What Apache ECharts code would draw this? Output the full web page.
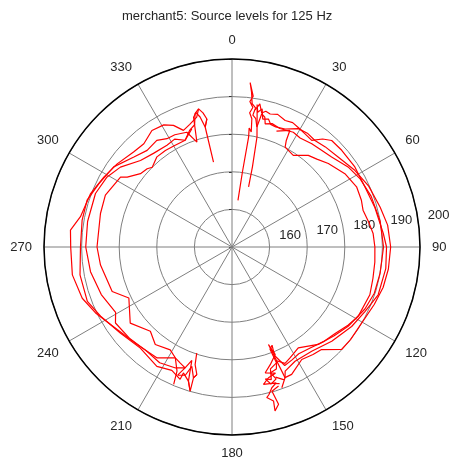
<!DOCTYPE html>
<html>
<head>
<meta charset="utf-8">
<script src="https://cdn.jsdelivr.net/npm/echarts@6/dist/echarts.min.js"></script>
<style>
  html, body { margin: 0; padding: 0; background: #fff; }
  #chart { width: 451px; height: 463px; }
</style>
</head>
<body>
<div id="chart"></div>
<script>
// tick labels
const angleTicks = [0, 30, 60, 90, 120, 150, 180, 210, 240, 270, 300, 330];
const levelTicks = [160, 170, 180, 190, 200];

// traces, [bearing deg, source level dB]
const right1 = [[9.6,187.0],[11.0,188.8],[12.5,186.5],[14.0,187.2],[16.0,186.8],[19.0,187.3],[22.8,186.5],[26.0,186.8],[29.3,186.3],[33.0,185.8],[36.8,185.4],[40.0,187.5],[43.1,188.8],[48.6,188.9],[56.9,189.0],[65.7,188.8],[74.3,189.4],[84.9,190.4],[90.0,191.1],[98.0,191.3],[108.1,190.9],[115.9,189.3],[123.6,188.2],[133.4,186.5],[142.6,184.9],[151.1,184.7],[156.8,185.9],[157.9,187.5],[160.5,189.7],[158.5,188.0],[161.5,186.5]];
const right2 = [[15.4,166.6],[14.3,172.0],[12.8,180.0],[12.0,182.0],[11.0,185.0],[10.0,188.5],[10.8,186.5],[12.3,187.6],[13.5,185.0],[15.9,185.4],[17.5,184.2],[20.0,184.0],[24.2,184.4],[29.3,186.1],[33.5,186.3],[37.9,185.9],[43.0,186.4],[49.7,187.0],[58.0,188.5],[66.0,189.8],[75.0,190.8],[82.0,191.8],[90.0,192.2],[98.0,192.0],[105.0,191.6],[112.0,190.8],[122.7,189.9],[128.0,190.0],[133.1,189.9],[138.9,186.2],[143.0,185.8],[148.2,185.2],[154.9,187.4],[157.9,187.5],[159.1,179.7],[159.5,177.7],[158.1,180.8],[162.0,182.9],[165.2,184.6],[161.0,185.5],[164.4,186.1],[167.1,187.5],[162.0,188.0],[164.2,188.9],[166.0,190.5],[167.0,191.1],[164.9,192.4],[165.3,195.1],[163.5,193.6],[164.5,189.8],[161.5,189.0]];
const right3 = [[7.3,162.5],[7.9,170.0],[8.6,179.6],[8.2,182.0],[9.5,181.0],[8.8,184.5],[7.5,186.0],[8.5,187.5],[7.0,189.0],[8.0,190.5],[6.3,194.0],[7.2,191.5],[8.0,188.5],[9.6,187.5],[9.0,185.5],[10.5,184.7],[11.7,182.6],[12.6,186.3],[14.2,185.6],[15.1,183.9],[18.0,184.5],[22.0,184.0],[28.1,184.6],[32.0,184.2],[37.7,184.7],[42.0,185.0],[47.9,185.7],[55.4,187.5],[62.0,188.6],[70.0,189.4],[80.0,190.0],[90.0,190.3],[100.0,190.0],[108.0,189.8],[115.0,189.0],[124.3,187.4],[131.0,186.0],[138.5,184.6],[146.7,182.1],[152.4,183.3],[155.5,184.0],[158.6,182.5],[160.0,184.5],[163.0,185.0],[161.5,187.0],[163.8,187.8],[160.8,188.5]];
const right4 = [[21.0,183.0],[26.4,184.6],[27.0,181.8],[28.0,180.1],[33.8,179.3],[39.8,181.7],[44.0,182.5],[49.1,183.9],[57.0,185.8],[64.2,186.8],[70.0,186.6],[74.3,186.2],[80.0,187.0],[84.5,187.7],[90.0,188.0],[96.0,188.2],[102.5,188.4],[109.1,188.8],[118.8,188.3],[124.0,187.2],[130.0,185.8],[136.0,185.0],[142.0,184.0],[148.0,183.5],[152.0,184.0],[156.0,184.5],[158.6,181.0],[157.8,178.2],[159.6,179.0],[159.0,183.0],[162.5,184.0],[163.5,186.8],[165.8,186.2],[164.0,188.0]];
const left1 = [[346.4,187.8],[344.8,185.8],[341.0,184.5],[337.4,183.6],[334.3,185.9],[330.8,187.2],[325.5,187.6],[319.5,186.1],[314.0,186.4],[305.9,187.7],[298.7,188.8],[290.7,190.2],[281.3,191.1],[276.0,193.2],[270.0,192.9],[260.1,193.1],[251.1,192.1],[244.2,190.3],[234.3,187.6],[224.2,186.2],[214.0,185.6],[207.1,183.1],[203.9,186.1],[203.0,189.7]];
const left2 = [[348.9,184.7],[347.4,182.7],[346.2,185.6],[345.0,187.0],[343.5,186.0],[341.5,179.4],[338.5,182.8],[333.0,183.5],[329.0,183.6],[324.8,184.7],[318.7,184.2],[312.5,185.4],[304.1,188.0],[295.5,189.2],[287.9,190.5],[280.2,190.5],[270.0,190.3],[259.6,191.1],[249.4,191.1],[242.2,189.5],[232.4,187.5],[222.2,186.3],[212.2,187.5],[206.0,186.5],[201.4,187.8],[201.1,185.9],[198.0,187.5],[196.2,189.9],[196.4,186.3],[195.4,185.2]];
const left3 = [[347.7,173.1],[347.4,182.7],[348.9,184.7],[347.8,186.5],[346.4,187.8],[344.5,186.8],[343.0,184.0],[340.0,183.0],[336.3,181.0],[332.0,182.5],[327.4,182.1],[320.0,182.5],[313.4,183.5],[305.6,186.5],[299.3,188.1],[291.4,189.0],[280.0,189.0],[270.0,188.9],[260.1,188.2],[250.0,187.0],[240.7,185.5],[236.9,187.0],[228.0,186.5],[220.0,185.8],[212.0,186.3],[205.0,185.5],[201.2,184.5],[203.0,187.0],[200.0,186.3],[198.6,183.5],[196.4,186.3],[195.4,185.2],[197.4,182.8],[198.4,179.7]];
const left4 = [[341.2,183.2],[336.3,181.0],[330.0,181.0],[325.4,181.2],[320.2,181.2],[315.0,180.0],[312.7,180.7],[308.7,181.2],[303.7,183.5],[302.1,185.0],[292.3,186.4],[284.3,186.1],[270.0,185.9],[262.2,185.3],[249.6,184.0],[243.7,180.6],[233.2,183.8],[224.1,181.2],[218.2,183.0],[211.0,181.9],[207.1,183.1],[204.0,183.8],[201.2,184.5],[199.5,182.0],[198.0,187.5],[196.2,189.9]];

const traces = [right1, right2, right3, right4, left1, left2, left3, left4];

const font = '"Liberation Sans", Arial, sans-serif';
const chart = echarts.init(document.getElementById('chart'));

chart.setOption({
  animation: false,
  title: {
    text: 'merchant5: Source levels for 125 Hz',
    left: 122,
    top: 10,
    padding: 0,
    textStyle: { fontSize: 13, fontWeight: 'normal', color: '#262626', fontFamily: font }
  },
  polar: [
    { center: [232, 247], radius: 188 },
    // only carries the level labels, offset like the original
    { center: [232, 247], radius: 209 }
  ],
  angleAxis: [
    {
      polarIndex: 0,
      type: 'value',
      min: 0,
      max: 360,
      interval: 30,
      startAngle: 90,
      clockwise: true,
      z: 3,
      axisLine: { lineStyle: { color: '#000', width: 1.5 } },
      axisTick: { show: false },
      axisLabel: {
        margin: 12,
        fontSize: 13,
        color: '#262626',
        fontFamily: font,
        formatter: v => angleTicks.includes(v) ? String(v) : ''
      },
      splitLine: { lineStyle: { color: '#7f7f7f', width: 1 } }
    },
    {
      polarIndex: 1,
      type: 'value',
      min: 0,
      max: 360,
      startAngle: 7.7,
      show: false
    }
  ],
  radiusAxis: [
    {
      polarIndex: 0,
      type: 'value',
      min: 150,
      max: 200,
      interval: 10,
      z: 1,
      axisLine: { show: false },
      axisTick: { show: true, length: 3, lineStyle: { color: '#333' } },
      axisLabel: { show: false },
      splitLine: { lineStyle: { color: '#7f7f7f', width: 1 } }
    },
    {
      polarIndex: 1,
      type: 'value',
      min: 144.2,
      max: 200,
      axisLine: { show: false },
      axisTick: { show: false },
      splitLine: { show: false },
      axisLabel: {
        customValues: levelTicks,
        margin: 4,
        align: 'center',
        verticalAlign: 'middle',
        fontSize: 13,
        color: '#262626',
        fontFamily: font,
        formatter: v => levelTicks.includes(v) ? String(v) : ''
      }
    }
  ],
  series: traces.map(t => ({
    type: 'line',
    coordinateSystem: 'polar',
    polarIndex: 0,
    symbol: 'none',
    z: 4,
    lineStyle: { color: '#ff0000', width: 1.2 },
    data: t.map(p => [p[1], p[0]])
  }))
});
</script>
</body>
</html>
